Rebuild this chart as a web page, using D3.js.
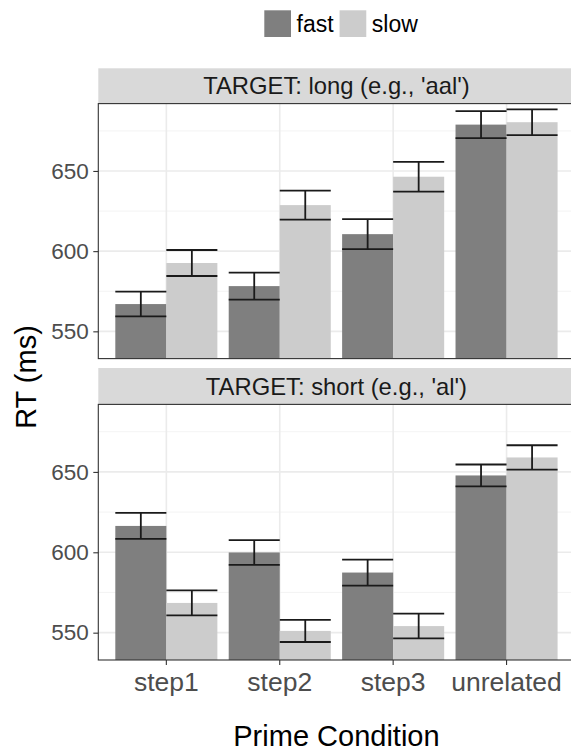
<!DOCTYPE html>
<html>
<head>
<meta charset="utf-8">
<script src="https://cdn.jsdelivr.net/npm/d3@7"></script>
<style>
  html, body { margin: 0; padding: 0; background: #fff; }
  svg { display: block; font-family: "Liberation Sans", Arial, Helvetica, sans-serif; }
</style>
</head>
<body>
<svg id="chart" width="571" height="753"></svg>
<script>
// Prime conditions on the x axis, speed groups in the legend, target facets
const categories = ["step1", "step2", "step3", "unrelated"];
const speeds = ["fast", "slow"];
const facets = ["TARGET: long (e.g., 'aal')", "TARGET: short (e.g., 'al')"];

// Mean RT (ms) and standard error per condition
const longFast    = [567.0, 578.2, 610.6, 678.9];
const longFastSE  = [7.7, 8.4, 9.4, 8.4];
const longSlow    = [592.6, 628.7, 646.4, 680.4];
const longSlowSE  = [8.1, 9.0, 9.3, 8.0];
const shortFast   = [616.4, 599.9, 587.4, 647.8];
const shortFastSE = [8.1, 7.7, 8.1, 6.8];
const shortSlow   = [568.5, 551.1, 554.1, 659.0];
const shortSlowSE = [7.8, 6.9, 7.7, 7.6];

const yTicks = [550, 600, 650];
const yMinorTicks = [575, 625, 675];
const yDomain = [533, 692];

const colors = { fast: "#7f7f7f", slow: "#cccccc" };

// Long table built from the arrays above
const seriesByFacet = [
  { fast: longFast, fastSE: longFastSE, slow: longSlow, slowSE: longSlowSE },
  { fast: shortFast, fastSE: shortFastSE, slow: shortSlow, slowSE: shortSlowSE }
];
const rows = [];
facets.forEach((f, fi) => {
  const s = seriesByFacet[fi];
  categories.forEach((c, ci) => {
    speeds.forEach(sp => {
      rows.push({ facet: f, cat: c, speed: sp, mean: s[sp][ci], se: s[sp + "SE"][ci] });
    });
  });
});

const svg = d3.select("#chart");

// layout
const panelLeft = 98.3, panelRight = 574.6;
const panels = [
  { stripTop: 68.3, top: 103.6, bottom: 358.6 },
  { stripTop: 368.0, top: 404.4, bottom: 660.0 }
];

const x0 = d3.scaleBand().domain(categories).range([panelLeft, panelRight])
  .paddingInner(0).paddingOuter(0.1);
const dodge = 0.9 * x0.bandwidth();
const x1 = d3.scaleBand().domain(speeds).range([0, dodge]);
const barX = d => x0(d.cat) + (x0.bandwidth() - dodge) / 2 + x1(d.speed);

const defs = svg.append("defs");

facets.forEach((f, fi) => {
  const p = panels[fi];
  const y = d3.scaleLinear().domain(yDomain).range([p.bottom, p.top]);
  const g = svg.append("g");

  defs.append("clipPath").attr("id", "clip" + fi)
    .append("rect").attr("x", panelLeft).attr("y", p.top)
    .attr("width", panelRight - panelLeft).attr("height", p.bottom - p.top);

  // strip
  g.append("rect").attr("x", panelLeft).attr("y", p.stripTop)
    .attr("width", panelRight - panelLeft).attr("height", p.top - p.stripTop)
    .attr("fill", "#d9d9d9");
  g.append("text").attr("x", (panelLeft + panelRight) / 2)
    .attr("y", (p.stripTop + p.top) / 2).attr("dy", "0.35em")
    .attr("text-anchor", "middle").attr("font-size", 23.8).attr("fill", "#1a1a1a")
    .text(f);

  const body = g.append("g").attr("clip-path", `url(#clip${fi})`);

  // grid
  body.selectAll(".gminor").data(yMinorTicks).join("line")
    .attr("x1", panelLeft).attr("x2", panelRight)
    .attr("y1", d => y(d)).attr("y2", d => y(d))
    .attr("stroke", "#f2f2f2").attr("stroke-width", 0.9);
  body.selectAll(".gmajor").data(yTicks).join("line")
    .attr("x1", panelLeft).attr("x2", panelRight)
    .attr("y1", d => y(d)).attr("y2", d => y(d))
    .attr("stroke", "#ebebeb").attr("stroke-width", 1.6);
  body.selectAll(".gx").data(categories).join("line")
    .attr("x1", d => x0(d) + x0.bandwidth() / 2).attr("x2", d => x0(d) + x0.bandwidth() / 2)
    .attr("y1", p.top).attr("y2", p.bottom)
    .attr("stroke", "#ebebeb").attr("stroke-width", 1.6);

  const data = rows.filter(r => r.facet === f);

  // bars
  body.selectAll(".bar").data(data).join("rect")
    .attr("x", barX).attr("width", x1.bandwidth())
    .attr("y", d => y(d.mean)).attr("height", d => y(yDomain[0]) - y(d.mean))
    .attr("fill", d => colors[d.speed]);

  // error bars
  const eb = body.selectAll(".eb").data(data).join("g").attr("stroke", "#1a1a1a").attr("stroke-width", 1.8);
  eb.append("line").attr("x1", barX).attr("x2", d => barX(d) + x1.bandwidth())
    .attr("y1", d => y(d.mean + d.se)).attr("y2", d => y(d.mean + d.se));
  eb.append("line").attr("x1", barX).attr("x2", d => barX(d) + x1.bandwidth())
    .attr("y1", d => y(d.mean - d.se)).attr("y2", d => y(d.mean - d.se));
  eb.append("line").attr("x1", d => barX(d) + x1.bandwidth() / 2).attr("x2", d => barX(d) + x1.bandwidth() / 2)
    .attr("y1", d => y(d.mean + d.se)).attr("y2", d => y(d.mean - d.se));

  // panel border
  g.append("rect").attr("x", panelLeft).attr("y", p.top)
    .attr("width", panelRight - panelLeft).attr("height", p.bottom - p.top)
    .attr("fill", "none").attr("stroke", "#333333").attr("stroke-width", 1.1);

  // y axis
  const ya = g.append("g").attr("transform", `translate(${panelLeft},0)`)
    .call(d3.axisLeft(y).tickValues(yTicks).tickSize(5).tickPadding(4.5).tickFormat(d3.format("d")));
  ya.select(".domain").remove();
  ya.selectAll(".tick line").attr("stroke", "#333333").attr("stroke-width", 1.1);
  ya.selectAll(".tick text").attr("font-size", 22.5).attr("fill", "#4d4d4d")
    .attr("font-family", "'Liberation Sans', Arial, Helvetica, sans-serif");

  // x axis on the bottom panel
  if (fi === facets.length - 1) {
    const xa = g.append("g").attr("transform", `translate(0,${p.bottom})`)
      .call(d3.axisBottom(x0).tickSize(5).tickPadding(7));
    xa.select(".domain").remove();
    xa.selectAll(".tick line").attr("stroke", "#333333").attr("stroke-width", 1.1);
    xa.selectAll(".tick text").attr("font-size", 26.5).attr("fill", "#4d4d4d")
      .attr("font-family", "'Liberation Sans', Arial, Helvetica, sans-serif");
  }
});

// axis titles
svg.append("text").attr("x", (panelLeft + panelRight) / 2).attr("y", 746)
  .attr("text-anchor", "middle").attr("font-size", 29).attr("fill", "#000")
  .text("Prime Condition");
svg.append("text").attr("transform", "translate(36,377) rotate(-90)")
  .attr("text-anchor", "middle").attr("font-size", 29).attr("fill", "#000")
  .text("RT (ms)");

// legend
const legend = svg.append("g");
let lx = 264.3;
speeds.forEach(sp => {
  legend.append("rect").attr("x", lx).attr("y", 10.3).attr("width", 26.7).attr("height", 26.7)
    .attr("fill", colors[sp]);
  const t = legend.append("text").attr("x", lx + 26.7 + 5.5).attr("y", 31.7)
    .attr("font-size", 23).attr("fill", "#000").text(sp);
  lx = lx + 26.7 + 5.5 + t.node().getComputedTextLength() + 6;
});
</script>
</body>
</html>
